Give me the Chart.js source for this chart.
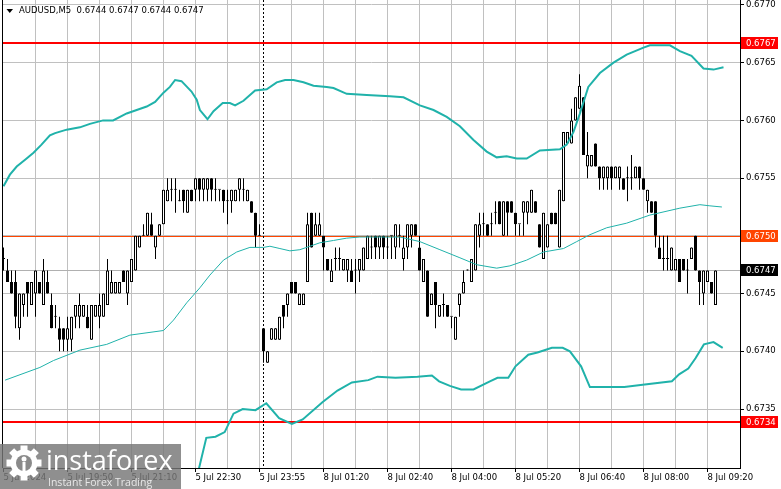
<!DOCTYPE html>
<html>
<head>
<meta charset="utf-8">
<script src="https://cdn.jsdelivr.net/npm/chart.js@4.4.1/dist/chart.umd.min.js"></script>
<style>
  html, body { margin: 0; padding: 0; background: #fff; }
  #wrap { width: 781px; height: 489px; }
</style>
</head>
<body>
<div id="wrap"><canvas id="chart" width="781" height="489"></canvas></div>
<script>
// AUDUSD M5 bars, 5 Jul 18:30 .. 8 Jul 09:30
const opens = [
  0.6748,0.6747,0.6746,0.6746,0.6742,0.6744,0.6746,0.6744,0.6745,0.6746,
  0.6744,0.6746,0.6744,0.6743,0.6742,0.6742,0.6741,0.6741,0.6743,0.6743,
  0.6743,0.6743,0.6741,0.6743,0.6743,0.6743,0.6744,0.6745,0.6745,0.6745,
  0.6747,0.6745,0.6746,0.6747,0.6749,0.6750,0.6750,0.6751,0.6749,0.6750,
  0.6751,0.6753,0.6754,0.6754,0.6753,0.6754,0.6752,0.6754,0.6754,0.6755,
  0.6754,0.6754,0.6755,0.6754,0.6754,0.6754,0.6753,0.6753,0.6753,0.6754,
  0.6754,0.6753,0.6753,0.6752,0.6750,0.6742,0.6739,0.6741,0.6741,0.6741,
  0.6744,0.6744,0.6746,0.6746,0.6744,0.6744,0.6746,0.6752,0.6750,0.6750,
  0.6750,0.6748,0.6746,0.6748,0.6748,0.6747,0.6747,0.6747,0.6747,0.6747,
  0.6747,0.6748,0.6749,0.6750,0.6749,0.6750,0.6749,0.6750,0.6749,0.6750,
  0.6748,0.6749,0.6750,0.6751,0.6749,0.6746,0.6747,0.6744,0.6746,0.6743,
  0.6744,0.6744,0.6743,0.6741,0.6744,0.6745,0.6747,0.6746,0.6747,0.6750,
  0.6751,0.6751,0.6751,0.6752,0.6753,0.6750,0.6753,0.6753,0.6752,0.6751,
  0.6752,0.6752,0.6752,0.6753,0.6751,0.6748,0.6749,0.6752,0.6752,0.6749,
  0.6753,0.6758,0.6758,0.6760,0.6761,0.6762,0.6756,0.6756,0.6758,0.6756,
  0.6755,0.6755,0.6756,0.6755,0.6755,0.6755,0.6755,0.6755,0.6755,0.6756,
  0.6755,0.6753,0.6753,0.6753,0.6749,0.6748,0.6748,0.6747,0.6747,0.6748,
  0.6748,0.6747,0.6748,0.6750,0.6747,0.6745,0.6746,0.6746,0.6744
];
const highs = [
  0.6749,0.6748,0.6747,0.6747,0.6745,0.6745,0.6746,0.6746,0.6747,0.6746,
  0.6748,0.6747,0.6745,0.6744,0.6743,0.6742,0.6743,0.6743,0.6744,0.6745,
  0.6744,0.6744,0.6744,0.6744,0.6745,0.6745,0.6748,0.6747,0.6746,0.6746,
  0.6747,0.6747,0.6748,0.6750,0.6750,0.6751,0.6752,0.6752,0.6750,0.6751,
  0.6754,0.6755,0.6755,0.6755,0.6754,0.6754,0.6754,0.6754,0.6755,0.6755,
  0.6755,0.6755,0.6755,0.6755,0.6754,0.6754,0.6754,0.6754,0.6754,0.6755,
  0.6755,0.6754,0.6753,0.6752,0.6751,0.6742,0.6740,0.6742,0.6742,0.6743,
  0.6744,0.6745,0.6746,0.6746,0.6745,0.6745,0.6752,0.6752,0.6752,0.6752,
  0.6750,0.6748,0.6748,0.6749,0.6749,0.6748,0.6748,0.6748,0.6748,0.6748,
  0.6749,0.6750,0.6750,0.6750,0.6750,0.6750,0.6750,0.6750,0.6751,0.6751,
  0.6750,0.6751,0.6751,0.6751,0.6750,0.6748,0.6747,0.6745,0.6746,0.6744,
  0.6745,0.6744,0.6743,0.6743,0.6745,0.6747,0.6747,0.6748,0.6751,0.6752,
  0.6752,0.6751,0.6752,0.6753,0.6753,0.6753,0.6753,0.6753,0.6752,0.6751,
  0.6753,0.6753,0.6754,0.6753,0.6751,0.6752,0.6751,0.6752,0.6752,0.6754,
  0.6759,0.6759,0.6761,0.6762,0.6764,0.6762,0.6759,0.6757,0.6758,0.6756,
  0.6756,0.6756,0.6756,0.6756,0.6756,0.6755,0.6756,0.6757,0.6756,0.6756,
  0.6755,0.6754,0.6753,0.6753,0.6750,0.6750,0.6750,0.6749,0.6748,0.6748,
  0.6748,0.6748,0.6749,0.6750,0.6747,0.6747,0.6747,0.6746,0.6747
];
const lows = [
  0.6747,0.6746,0.6745,0.6742,0.6741,0.6743,0.6743,0.6744,0.6743,0.6745,
  0.6744,0.6745,0.6742,0.6742,0.6740,0.6740,0.6740,0.6740,0.6742,0.6742,
  0.6743,0.6742,0.6741,0.6743,0.6742,0.6743,0.6744,0.6745,0.6745,0.6745,
  0.6746,0.6744,0.6746,0.6747,0.6749,0.6750,0.6750,0.6750,0.6748,0.6750,
  0.6751,0.6753,0.6753,0.6752,0.6753,0.6752,0.6752,0.6753,0.6753,0.6753,
  0.6753,0.6753,0.6753,0.6753,0.6753,0.6752,0.6751,0.6752,0.6753,0.6753,
  0.6753,0.6753,0.6752,0.6749,0.6750,0.6739,0.6739,0.6741,0.6741,0.6741,
  0.6742,0.6743,0.6745,0.6745,0.6744,0.6744,0.6746,0.6749,0.6750,0.6750,
  0.6747,0.6747,0.6746,0.6747,0.6747,0.6747,0.6746,0.6746,0.6745,0.6746,
  0.6747,0.6748,0.6748,0.6748,0.6748,0.6748,0.6748,0.6748,0.6748,0.6749,
  0.6747,0.6748,0.6749,0.6750,0.6747,0.6746,0.6743,0.6744,0.6742,0.6743,
  0.6743,0.6743,0.6742,0.6741,0.6743,0.6745,0.6747,0.6746,0.6747,0.6749,
  0.6750,0.6750,0.6750,0.6751,0.6751,0.6750,0.6750,0.6752,0.6750,0.6750,
  0.6750,0.6751,0.6752,0.6752,0.6749,0.6748,0.6749,0.6751,0.6751,0.6749,
  0.6753,0.6758,0.6758,0.6760,0.6761,0.6757,0.6755,0.6756,0.6756,0.6754,
  0.6754,0.6754,0.6754,0.6755,0.6754,0.6754,0.6753,0.6754,0.6755,0.6754,
  0.6754,0.6752,0.6752,0.6749,0.6748,0.6747,0.6747,0.6747,0.6747,0.6746,
  0.6747,0.6745,0.6748,0.6747,0.6744,0.6744,0.6746,0.6745,0.6744
];
const closes = [
  0.6748,0.6746,0.6745,0.6743,0.6745,0.6745,0.6745,0.6746,0.6747,0.6745,
  0.6747,0.6745,0.6742,0.6743,0.6741,0.6741,0.6742,0.6743,0.6744,0.6744,
  0.6744,0.6742,0.6744,0.6744,0.6744,0.6745,0.6747,0.6746,0.6746,0.6746,
  0.6746,0.6747,0.6748,0.6750,0.6750,0.6750,0.6752,0.6750,0.6750,0.6751,
  0.6754,0.6754,0.6754,0.6754,0.6753,0.6753,0.6754,0.6753,0.6755,0.6754,
  0.6755,0.6755,0.6754,0.6754,0.6754,0.6753,0.6753,0.6754,0.6754,0.6755,
  0.6754,0.6754,0.6752,0.6750,0.6750,0.6740,0.6740,0.6742,0.6742,0.6743,
  0.6743,0.6745,0.6745,0.6745,0.6745,0.6745,0.6751,0.6749,0.6751,0.6751,
  0.6749,0.6747,0.6747,0.6748,0.6748,0.6748,0.6748,0.6746,0.6747,0.6748,
  0.6749,0.6750,0.6749,0.6749,0.6750,0.6749,0.6749,0.6750,0.6751,0.6750,
  0.6749,0.6751,0.6751,0.6750,0.6747,0.6748,0.6743,0.6745,0.6744,0.6744,
  0.6744,0.6743,0.6743,0.6743,0.6745,0.6746,0.6747,0.6748,0.6751,0.6751,
  0.6751,0.6750,0.6751,0.6752,0.6751,0.6753,0.6752,0.6752,0.6751,0.6751,
  0.6753,0.6753,0.6754,0.6752,0.6749,0.6752,0.6751,0.6751,0.6751,0.6754,
  0.6759,0.6759,0.6760,0.6762,0.6763,0.6757,0.6757,0.6757,0.6756,0.6755,
  0.6756,0.6756,0.6755,0.6756,0.6756,0.6754,0.6755,0.6755,0.6756,0.6755,
  0.6754,0.6754,0.6752,0.6750,0.6748,0.6748,0.6748,0.6749,0.6748,0.6746,
  0.6747,0.6747,0.6749,0.6747,0.6746,0.6747,0.6747,0.6745,0.6747
];

// Bollinger bands as [bar index, price]
const upperBand = [
  [0,0.67543],[1.6,0.67553],[3.3,0.67560],[5.4,0.67566],[7.5,0.67572],[9.5,0.67579],
  [11.6,0.67587],[12.9,0.67589],[15.8,0.67592],[19.1,0.67594],[21.6,0.67597],[24.9,0.67600],
  [27.4,0.67600],[30.8,0.67606],[33.3,0.67609],[35.8,0.67612],[37.9,0.67616],[40,0.67624],
  [41.6,0.67629],[42.9,0.67635],[44.5,0.67634],[47,0.67625],[48.3,0.67618],[49.1,0.67609],
  [51,0.67601],[52.5,0.67608],[54.8,0.67615],[56.6,0.67615],[57.9,0.67613],[60,0.67617],
  [62.9,0.67626],[65.8,0.67627],[68.3,0.67633],[70.4,0.67635],[72.5,0.67635],[75,0.67633],
  [77.5,0.67630],[80.8,0.67629],[82.5,0.67628],[85.8,0.67623],[90.8,0.67622],[96.6,0.67621],
  [100,0.67620],[104.1,0.67613],[107.5,0.67609],[110.8,0.67603],[114.1,0.67595],[117.5,0.67583],
  [120.8,0.67573],[123.3,0.67568],[125.8,0.67569],[128.3,0.67567],[130.8,0.67567],[134.1,0.67574],
  [139.1,0.67575],[140.8,0.67579],[142.5,0.67590],[144.1,0.67606],[146.2,0.67629],[149.1,0.67641],
  [152.5,0.67650],[155.8,0.67657],[160,0.67663],[161.6,0.67665],[166.6,0.67665],[169.1,0.67660],
  [172,0.67656],[175,0.67645],[177.5,0.67644],[180,0.67646]
];
const middleBand = [
  [0.4,0.67375],[9.1,0.67386],[12.5,0.67392],[19.1,0.67401],[25.8,0.67406],[31.6,0.67414],
  [40,0.67418],[42.5,0.67427],[45.8,0.67442],[49.1,0.67455],[51.6,0.67466],[55,0.67479],
  [58.3,0.67486],[61.6,0.67490],[65,0.67490],[66.6,0.67491],[69.1,0.67489],[71.6,0.67487],
  [74.1,0.67488],[76.6,0.67491],[79.1,0.67494],[82.5,0.67496],[85.8,0.67498],[89.1,0.67499],
  [94.1,0.67499],[99.1,0.67499],[104.1,0.67495],[109.1,0.67488],[114.1,0.67481],[118.3,0.67475],
  [123.3,0.67472],[126.6,0.67474],[130.8,0.67479],[135,0.67486],[140,0.67489],[143.3,0.67495],
  [146.6,0.67501],[150.8,0.67507],[155.8,0.67511],[161.6,0.67518],[164.1,0.67520],[169.1,0.67524],
  [174.1,0.67527],[176.6,0.67526],[179.6,0.67525]
];
const lowerBand = [
  [48.2,0.67285],[48.9,0.67299],[50.7,0.67325],[53,0.67326],[55.3,0.67330],[57.5,0.67346],
  [59.8,0.67350],[63,0.67349],[65.7,0.67355],[68.9,0.67342],[72.1,0.67337],[74.8,0.67341],
  [79.8,0.67356],[83.5,0.67366],[87.1,0.67373],[91.2,0.67375],[93.5,0.67378],[98,0.67377],
  [103.5,0.67378],[107.1,0.67379],[108.9,0.67374],[111.6,0.67370],[114.4,0.67367],[117.5,0.67367],
  [121.6,0.67374],[123.5,0.67377],[126.2,0.67377],[128,0.67387],[131.2,0.67397],[133.5,0.67399],
  [137.1,0.67403],[139.8,0.67403],[141.6,0.67400],[144.4,0.67387],[146.6,0.67369],[148.9,0.67369],
  [155.2,0.67369],[159.8,0.67371],[167.1,0.67374],[168.9,0.67380],[171.2,0.67385],[173,0.67394],
  [175.1,0.67406],[177.5,0.67408],[179.8,0.67403]
];

// axes
const tickLabels = ["5 Jul 2024", "5 Jul 19:50", "5 Jul 21:10", "5 Jul 22:30", "5 Jul 23:55", "8 Jul 01:20",
  "8 Jul 02:40", "8 Jul 04:00", "8 Jul 05:20", "8 Jul 06:40", "8 Jul 08:00", "8 Jul 09:20"];
const gridBars = [0, 8, 16, 24, 32, 40, 48, 56, 64, 72, 80, 88, 96, 104, 112, 120, 128, 136, 144, 152, 160, 168, 176];
const yTicks = [0.6735, 0.6740, 0.6745, 0.6750, 0.6755, 0.6760, 0.6765, 0.6770];

// horizontal levels and day separator
const levelPrices = [0.67667, 0.6750, 0.6747, 0.67339];
const separatorBar = 65;
const levelStyle = [
  { line: "#ff0000", width: 2, box: "#ff0000" },
  { line: "#ff4500", width: 1, box: "#ff4500" },
  { line: "#b0b0b0", width: 1, box: "#000000" },
  { line: "#ff0000", width: 2, box: "#ff0000" }
];

const TEAL = "#20b2aa";
const FONT = '"DejaVu Sans", sans-serif';
const FSIZE = 8.5;

Chart.defaults.font.family = FONT;
Chart.defaults.font.size = FSIZE;
Chart.defaults.color = "#000";

const bodies = opens.map((o, i) => ({ x: i, y: [o, closes[i]] }));
const wicks = lows.map((l, i) => ({ x: i, y: [l, highs[i]] }));
const bodyFill = opens.map((o, i) => closes[i] > o ? "#ffffff" : "#000000");
const toXY = arr => arr.map(p => ({ x: p[0], y: p[1] }));

const overlay = {
  id: "overlay",
  beforeDatasetsDraw(chart) {
    const { ctx, chartArea: a, scales: { x, y } } = chart;
    ctx.save();
    ctx.beginPath();
    ctx.rect(a.left, a.top, a.right - a.left, a.bottom - a.top);
    ctx.clip();
    levelPrices.forEach((p, k) => {
      const st = levelStyle[k];
      const py = Math.round(y.getPixelForValue(p));
      const yy = st.width % 2 ? py + 0.5 : py;
      ctx.strokeStyle = st.line;
      ctx.lineWidth = st.width;
      ctx.beginPath();
      ctx.moveTo(a.left, yy);
      ctx.lineTo(a.right, yy);
      ctx.stroke();
    });
    const sx = Math.floor(x.getPixelForValue(separatorBar)) + 0.5;
    ctx.setLineDash([2, 2]);
    ctx.strokeStyle = "#000";
    ctx.lineWidth = 1;
    ctx.beginPath();
    ctx.moveTo(sx, a.top);
    ctx.lineTo(sx, a.bottom);
    ctx.stroke();
    ctx.restore();
  },
  afterDraw(chart) {
    const { ctx, chartArea: a, scales: { y } } = chart;
    ctx.save();
    // left frame
    ctx.strokeStyle = "#000";
    ctx.lineWidth = 1;
    ctx.beginPath();
    ctx.moveTo(2.5, 0);
    ctx.lineTo(2.5, a.bottom);
    ctx.stroke();

    // price boxes on the right scale
    ctx.font = FSIZE + "px " + FONT;
    ctx.textBaseline = "middle";
    ctx.textAlign = "left";
    levelPrices.forEach((p, k) => {
      const py = Math.round(y.getPixelForValue(p));
      ctx.fillStyle = levelStyle[k].box;
      ctx.fillRect(a.right + 1, py - 6, 37, 12);
      ctx.fillStyle = "#fff";
      ctx.fillText(p.toFixed(4), a.right + 6, py + 0.5);
    });

    // header
    const last = opens.length - 1;
    ctx.fillStyle = "#000";
    ctx.beginPath();
    ctx.moveTo(6.5, 9);
    ctx.lineTo(13, 9);
    ctx.lineTo(9.75, 13);
    ctx.closePath();
    ctx.fill();
    const ohlc = [opens[last], highs[last], lows[last], closes[last]].map(v => v.toFixed(4)).join(" ");
    ctx.fillText("AUDUSD,M5  " + ohlc, 19, 11);

    // watermark
    ctx.fillStyle = "rgba(118,118,118,0.82)";
    ctx.fillRect(0, 444, 181, 45);
    const gx = 24, gy = 463;
    ctx.fillStyle = "#fff";
    for (let k = 0; k < 8; k++) {
      ctx.save();
      ctx.translate(gx, gy);
      ctx.rotate(k * Math.PI / 4);
      ctx.fillRect(-3.5, -17.5, 7, 6);
      ctx.restore();
    }
    ctx.beginPath();
    ctx.arc(gx, gy, 13.5, 0, Math.PI * 2);
    ctx.fill();
    ctx.fillStyle = "#8a8a8a";
    ctx.beginPath();
    ctx.arc(gx, gy, 8, 0, Math.PI * 2);
    ctx.fill();
    ctx.fillStyle = "#fff";
    ctx.beginPath();
    ctx.arc(gx, gy - 4, 2.5, 0, Math.PI * 2);
    ctx.fill();
    ctx.fillRect(gx - 1.5, gy - 1, 3, 9);
    ctx.font = '27px "Open Sans", sans-serif';
    ctx.textBaseline = "alphabetic";
    ctx.fillText("instaforex", 46, 470);
    ctx.fillStyle = "#e8e8e8";
    ctx.font = '10.5px "Open Sans", sans-serif';
    ctx.fillText("Instant Forex Trading", 48, 486);
    ctx.restore();
  }
};

new Chart(document.getElementById("chart").getContext("2d"), {
  type: "bar",
  data: {
    datasets: [
      { type: "line", data: toXY(upperBand), borderColor: TEAL, borderWidth: 2, pointRadius: 0, tension: 0, fill: false, clip: 0, order: 0 },
      { type: "line", data: toXY(middleBand), borderColor: TEAL, borderWidth: 1, pointRadius: 0, tension: 0, fill: false, clip: 0, order: 0 },
      { type: "line", data: toXY(lowerBand), borderColor: TEAL, borderWidth: 2, pointRadius: 0, tension: 0, fill: false, clip: 0, order: 0 },
      {
        type: "bar", data: bodies, backgroundColor: bodyFill, borderColor: "#000", borderWidth: 1,
        borderSkipped: false, grouped: false, barPercentage: 1, categoryPercentage: 1, maxBarThickness: 3,
        minBarLength: 1, inflateAmount: 0, order: 1
      },
      {
        type: "bar", data: wicks, backgroundColor: "#000", borderWidth: 0,
        grouped: false, barPercentage: 1, categoryPercentage: 1, maxBarThickness: 1,
        minBarLength: 1, inflateAmount: 0, order: 2
      }
    ]
  },
  options: {
    responsive: false,
    animation: false,
    layout: { padding: { left: 3, top: 0, right: 0, bottom: 0 } },
    plugins: { legend: { display: false }, tooltip: { enabled: false } },
    scales: {
      x: {
        type: "linear",
        min: -0.125,
        max: 184.125,
        offset: false,
        grid: {
          offset: false,
          color: c => (c.tick && c.tick.value === 0) ? "rgba(0,0,0,0)" : "#c0c0c0",
          borderDash: [4, 3],
          tickBorderDash: [],
          tickLength: 4,
          tickColor: c => (c.tick && c.tick.value % 16 === 0) ? "#000" : "rgba(0,0,0,0)"
        },
        border: { color: "#000", width: 1 },
        ticks: {
          autoSkip: false, maxRotation: 0, minRotation: 0, align: "start", padding: 1,
          callback: v => v % 16 === 0 ? tickLabels[v / 16] : ""
        },
        afterBuildTicks: s => { s.ticks = gridBars.map(v => ({ value: v })); },
        afterFit: s => { s.height = 21; s.paddingLeft = 0; s.paddingRight = 0; }
      },
      y: {
        type: "linear",
        position: "right",
        min: 0.672989,
        max: 0.677043,
        beginAtZero: false,
        grid: { color: "#c0c0c0", borderDash: [4, 3], tickBorderDash: [], tickLength: 4, tickColor: "#000" },
        border: { color: "#000", width: 1 },
        ticks: { padding: 2, callback: v => v.toFixed(4) },
        afterBuildTicks: s => { s.ticks = yTicks.map(v => ({ value: v })); },
        afterFit: s => { s.width = 41; s.paddingTop = 0; s.paddingBottom = 0; }
      }
    }
  },
  plugins: [overlay]
});
</script>
</body>
</html>
